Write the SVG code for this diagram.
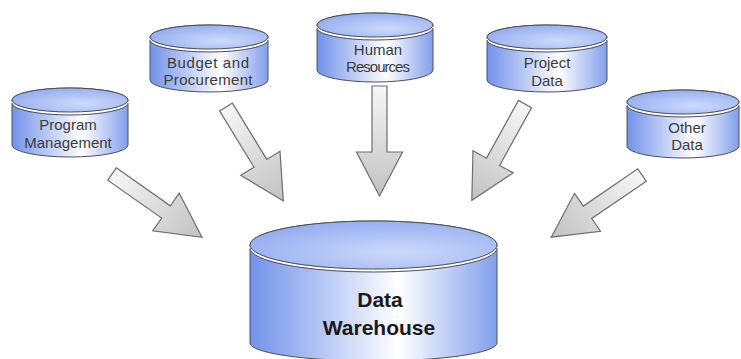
<svg xmlns="http://www.w3.org/2000/svg" xmlns:xlink="http://www.w3.org/1999/xlink" width="741" height="359" viewBox="0 0 741 359">
  <defs>
    <!-- cylinder body: blue at the sides, bright toward the middle -->
    <linearGradient id="bodyFill" x1="0" y1="0" x2="1" y2="0">
      <stop offset="0" stop-color="#7292ea"/>
      <stop offset="0.6" stop-color="#ffffff"/>
      <stop offset="1" stop-color="#829fec"/>
    </linearGradient>
    <!-- cylinder lid -->
    <radialGradient id="lidFill" cx="0.6" cy="0.65" r="0.7">
      <stop offset="0" stop-color="#cddafa"/>
      <stop offset="1" stop-color="#93acef"/>
    </radialGradient>
    <!-- block arrow fill, runs from tail to tip -->
    <linearGradient id="arrowFill" gradientUnits="userSpaceOnUse" x1="0" y1="0" x2="110" y2="0">
      <stop offset="0" stop-color="#f6f6f6"/>
      <stop offset="1" stop-color="#c2c2c2"/>
    </linearGradient>
    <!-- block arrow pointing along +x, tail at the origin -->
    <polygon id="blockArrow" points="0,-7.5 66,-7.5 66,-23 110,0 66,23 66,7.5 0,7.5"/>
    <style>
      .body { fill: url(#bodyFill); stroke: #4f4f5c; stroke-width: 1; }
      .lid { fill: url(#lidFill); stroke: #4f4f5c; stroke-width: 1; }
      .gap { fill: none; stroke: #ffffff; stroke-width: 2.2; }
      .rim { fill: none; stroke: #4f4f5c; stroke-width: 1; }
      .arrow { fill: url(#arrowFill); stroke: #6e6e6e; stroke-width: 1.2; stroke-linejoin: miter; }
      .lbl { font-family: "Liberation Sans", Arial, sans-serif; font-size: 15px; fill: #3c3c3c; text-anchor: middle; }
      .big { font-family: "Liberation Sans", Arial, sans-serif; font-size: 21px; font-weight: bold; fill: #1a1a1a; text-anchor: middle; }
    </style>
  </defs>

  <rect width="741" height="359" fill="#ffffff"/>

  <!-- connectors -->
  <g id="connectors">
    <use xlink:href="#blockArrow" class="arrow" transform="translate(112,174) rotate(35.1)"/>
    <use xlink:href="#blockArrow" class="arrow" transform="translate(226,107) rotate(58.6)"/>
    <use xlink:href="#blockArrow" class="arrow" transform="translate(379.5,86) rotate(90)"/>
    <use xlink:href="#blockArrow" class="arrow" transform="translate(525,104) rotate(118.9)"/>
    <use xlink:href="#blockArrow" class="arrow" transform="translate(642,175) rotate(145.6)"/>
  </g>

  <!-- Program Management: cx 70, cy 100, rx 58 -->
  <g id="program-management">
    <path class="body" d="M12,100 L12,145 A58,12 0 0 0 128,145 L128,100 A58,12 0 0 0 12,100 Z"/>
    <path class="gap" d="M12,101.5 A58,12 0 0 0 128,101.5"/>
    <path class="rim" d="M12,103 A58,12 0 0 0 128,103"/>
    <ellipse class="lid" cx="70" cy="100" rx="58" ry="12"/>
    <text class="lbl" x="68" y="130">Program</text>
    <text class="lbl" x="68" y="148">Management</text>
  </g>

  <!-- Budget and Procurement: cx 209, cy 37, rx 59 -->
  <g id="budget-procurement">
    <path class="body" d="M150,37 L150,80 A59,12 0 0 0 268,80 L268,37 A59,12 0 0 0 150,37 Z"/>
    <path class="gap" d="M150,38.5 A59,12 0 0 0 268,38.5"/>
    <path class="rim" d="M150,40 A59,12 0 0 0 268,40"/>
    <ellipse class="lid" cx="209" cy="37" rx="59" ry="12"/>
    <text class="lbl" x="208" y="68" textLength="82">Budget and</text>
    <text class="lbl" x="208" y="85" textLength="89">Procurement</text>
  </g>

  <!-- Human Resources: cx 375, cy 25, rx 58 -->
  <g id="human-resources">
    <path class="body" d="M317,25 L317,70 A58,12 0 0 0 433,70 L433,25 A58,12 0 0 0 317,25 Z"/>
    <path class="gap" d="M317,26.5 A58,12 0 0 0 433,26.5"/>
    <path class="rim" d="M317,28 A58,12 0 0 0 433,28"/>
    <ellipse class="lid" cx="375" cy="25" rx="58" ry="12"/>
    <text class="lbl" x="378" y="55">Human</text>
    <text class="lbl" x="378" y="72" textLength="64">Resources</text>
  </g>

  <!-- Project Data: cx 547, cy 37, rx 60 -->
  <g id="project-data">
    <path class="body" d="M487,37 L487,80 A60,12 0 0 0 607,80 L607,37 A60,12 0 0 0 487,37 Z"/>
    <path class="gap" d="M487,38.5 A60,12 0 0 0 607,38.5"/>
    <path class="rim" d="M487,40 A60,12 0 0 0 607,40"/>
    <ellipse class="lid" cx="547" cy="37" rx="60" ry="12"/>
    <text class="lbl" x="547" y="68">Project</text>
    <text class="lbl" x="547" y="86">Data</text>
  </g>

  <!-- Other Data: cx 683, cy 102, rx 56 -->
  <g id="other-data">
    <path class="body" d="M627,102 L627,146 A56,12 0 0 0 739,146 L739,102 A56,12 0 0 0 627,102 Z"/>
    <path class="gap" d="M627,103.5 A56,12 0 0 0 739,103.5"/>
    <path class="rim" d="M627,105 A56,12 0 0 0 739,105"/>
    <ellipse class="lid" cx="683" cy="102" rx="56" ry="12"/>
    <text class="lbl" x="687" y="133">Other</text>
    <text class="lbl" x="687" y="150">Data</text>
  </g>

  <!-- Data Warehouse: cx 373.5, cy 245, rx 123.5 -->
  <g id="data-warehouse">
    <path class="body" d="M250,245 L250,343 A123.5,18 0 0 0 497,343 L497,245 A123.5,24 0 0 0 250,245 Z"/>
    <path class="gap" d="M250,246.5 A123.5,24 0 0 0 497,246.5"/>
    <path class="rim" d="M250,248 A123.5,24 0 0 0 497,248"/>
    <ellipse class="lid" cx="373.5" cy="245" rx="123.5" ry="24"/>
    <text class="big" x="380" y="307">Data</text>
    <text class="big" x="379" y="335">Warehouse</text>
  </g>
</svg>
